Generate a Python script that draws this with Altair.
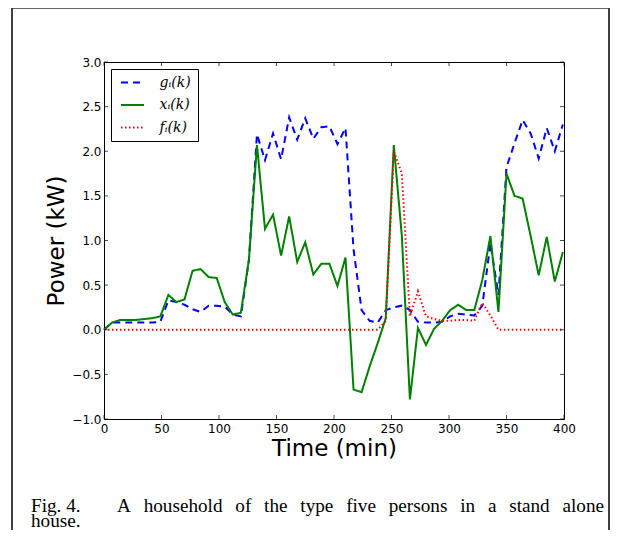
import altair as alt
import pandas as pd

# sample times (min)
times = [0, 7, 14, 21, 28, 35, 42, 49, 56, 63, 70, 77, 84, 91, 98, 105, 112, 119,
         126, 133, 140, 147, 154, 161, 168, 175, 182, 189, 196, 203, 210, 217, 224,
         231, 238, 245, 252, 259, 266, 273, 280, 287, 294, 301, 308, 315, 322, 329,
         336, 343, 350, 357, 364, 371, 378, 385, 392, 399]

g_vals = [0.00, 0.08, 0.08, 0.08, 0.08, 0.08, 0.08, 0.09, 0.33, 0.31, 0.28, 0.23, 0.20,
          0.27, 0.27, 0.26, 0.17, 0.15, 0.78, 2.19, 1.90, 2.20, 1.91, 2.38, 2.13, 2.37,
          2.14, 2.27, 2.28, 2.08, 2.26, 0.90, 0.22, 0.10, 0.08, 0.22, 0.25, 0.27, 0.22,
          0.09, 0.08, 0.08, 0.09, 0.15, 0.18, 0.17, 0.16, 0.27, 0.97, 0.39, 1.82, 2.09,
          2.35, 2.20, 1.92, 2.26, 2.00, 2.30]

x_vals = [0.00, 0.08, 0.11, 0.11, 0.11, 0.12, 0.13, 0.15, 0.39, 0.31, 0.34, 0.66, 0.68,
          0.59, 0.58, 0.31, 0.17, 0.19, 0.78, 2.07, 1.13, 1.29, 0.83, 1.27, 0.76, 0.98,
          0.62, 0.74, 0.74, 0.49, 0.81, -0.67, -0.70, -0.41, -0.15, 0.13, 2.07, 1.05,
          -0.78, 0.02, -0.17, 0.01, 0.10, 0.22, 0.28, 0.22, 0.22, 0.56, 1.05, 0.20, 1.75,
          1.50, 1.47, 1.05, 0.61, 1.04, 0.54, 0.87]

f_vals = [0.00, 0.00, 0.00, 0.00, 0.00, 0.00, 0.00, 0.00, 0.00, 0.00, 0.00, 0.00, 0.00,
          0.00, 0.00, 0.00, 0.00, 0.00, 0.00, 0.00, 0.00, 0.00, 0.00, 0.00, 0.00, 0.00,
          0.00, 0.00, 0.00, 0.00, 0.00, 0.00, 0.00, 0.00, 0.00, 0.10, 2.00, 1.75, 0.15,
          0.43, 0.15, 0.12, 0.10, 0.10, 0.11, 0.11, 0.10, 0.30, 0.16, 0.00, 0.00, 0.00,
          0.00, 0.00, 0.00, 0.00, 0.00, 0.00]

series_names = ["g\u1d62(k)", "x\u1d62(k)", "f\u1d62(k)"]
series_colors = ["#0000ff", "#008000", "#ff0000"]
series_dashes = [[7, 5], [1, 0], [1.5, 2.5]]

x_ticks = [0, 50, 100, 150, 200, 250, 300, 350, 400]
y_ticks = [-1.0, -0.5, 0.0, 0.5, 1.0, 1.5, 2.0, 2.5, 3.0]

title_text = "Single house in network"
x_title = "Time (min)"
y_title = "Power (kW)"
caption_fig = "Fig. 4."
caption_words = ["A", "household", "of", "the", "type", "five", "persons", "in", "a", "stand", "alone"]
caption_line1 = "\u2002\u2006".join(caption_words)
caption_line2 = "house."

frames = []
for name, vals in zip(series_names, [g_vals, x_vals, f_vals]):
    frames.append(pd.DataFrame({"t": times, "v": vals, "series": name}))
df = pd.concat(frames, ignore_index=True)

xs = alt.Scale(domain=[0, 400], nice=False, zero=False)
ys = alt.Scale(domain=[-1, 3], nice=False, zero=False)

color_enc = alt.Color(
    "series:N",
    scale=alt.Scale(domain=series_names, range=series_colors),
    legend=alt.Legend(
        title=None, orient="top-left", offset=7, padding=6.5,
        fillColor="white", strokeColor="black",
        symbolType="M-2,0H2", symbolSize=132, symbolStrokeWidth=2,
        symbolOffset=8, labelOffset=20, rowPadding=8.5,
        labelFont="DejaVu Serif", labelFontStyle="italic", labelFontSize=14,
        labelColor="black",
    ),
)
dash_enc = alt.StrokeDash(
    "series:N",
    scale=alt.Scale(domain=series_names, range=series_dashes),
    legend=None,
)

x_enc = alt.X(
    "t:Q", scale=xs,
    axis=alt.Axis(values=x_ticks, labelPadding=4, labelFlush=False, labelOverlap=False,
                  title=x_title, titleX=230, titleY=36, titleBaseline="alphabetic",
                  titleAlign="center"),
)
y_enc = alt.Y(
    "v:Q", scale=ys,
    axis=alt.Axis(values=y_ticks, format=".1f", labelPadding=3, labelOverlap=False,
                  labelExpr="replace(datum.label, '-', '\u2212')",
                  title=y_title, titleX=-41, titleY=178.5, titleAngle=-90,
                  titleBaseline="alphabetic", titleAlign="center"),
)

layers = []
for name, sw in zip(series_names, [2, 2, 2]):
    layers.append(
        alt.Chart(df).transform_filter(alt.datum.series == name)
        .mark_line(strokeWidth=sw, strokeCap="butt")
        .encode(x=x_enc, y=y_enc, color=color_enc, strokeDash=dash_enc)
    )

tx = pd.DataFrame({"tv": x_ticks})
ty = pd.DataFrame({"tv": y_ticks})
tick_style = dict(size=4, thickness=1, color="black")
ticks_bottom = alt.Chart(tx).mark_tick(orient="vertical", yOffset=-2, **tick_style).encode(
    x=alt.X("tv:Q", scale=xs), y=alt.datum(-1.0, scale=ys))
ticks_top = alt.Chart(tx).mark_tick(orient="vertical", yOffset=2, **tick_style).encode(
    x=alt.X("tv:Q", scale=xs), y=alt.datum(3.0, scale=ys))
ticks_left = alt.Chart(ty).mark_tick(orient="horizontal", xOffset=2, **tick_style).encode(
    y=alt.Y("tv:Q", scale=ys), x=alt.datum(0, scale=xs))
ticks_right = alt.Chart(ty).mark_tick(orient="horizontal", xOffset=-2, **tick_style).encode(
    y=alt.Y("tv:Q", scale=ys), x=alt.datum(400, scale=xs))

dummy = pd.DataFrame({"a": [0]})
frame_left = alt.Chart(dummy).mark_rule(color="black", strokeWidth=1.5).encode(
    x=alt.value(-92), y=alt.value(-54), y2=alt.value(470))
frame_right = alt.Chart(dummy).mark_rule(color="black", strokeWidth=1.5).encode(
    x=alt.value(505), y=alt.value(-54), y2=alt.value(470))
frame_top = alt.Chart(dummy).mark_rule(color="#333333", strokeWidth=1.5).encode(
    y=alt.value(-54), x=alt.value(-92), x2=alt.value(505))

cap_style = dict(align="left", baseline="alphabetic", font="Liberation Serif",
                 fontSize=19.2, color="black")
cap1 = alt.Chart(dummy).mark_text(**cap_style).encode(
    x=alt.value(-73), y=alt.value(450), text=alt.value(caption_fig))
cap2 = alt.Chart(dummy).mark_text(**cap_style).encode(
    x=alt.value(13), y=alt.value(450), text=alt.value(caption_line1))
cap3 = alt.Chart(dummy).mark_text(**cap_style).encode(
    x=alt.value(-73), y=alt.value(465), text=alt.value(caption_line2))

chart = alt.layer(
    frame_left, frame_right, frame_top, cap1, cap2, cap3,
    *layers, ticks_bottom, ticks_top, ticks_left, ticks_right,
).properties(
    width=460, height=357,
    padding={"left": 96, "top": 54, "right": 46, "bottom": 111},
    autosize=alt.AutoSizeParams(type="none"),
    title=alt.TitleParams(title_text, font="DejaVu Sans", fontSize=23, fontWeight="normal",
                          anchor="middle", baseline="alphabetic", offset=10, color="black"),
).configure_view(
    stroke="black", strokeWidth=1,
).configure_axis(
    grid=False, domain=False, ticks=False,
    labelFont="DejaVu Sans", labelFontSize=12, labelColor="black",
    titleFont="DejaVu Sans", titleFontSize=23, titleFontWeight="normal", titleColor="black",
)

chart.save("out.html", embed_options={"renderer": "svg", "actions": False})
